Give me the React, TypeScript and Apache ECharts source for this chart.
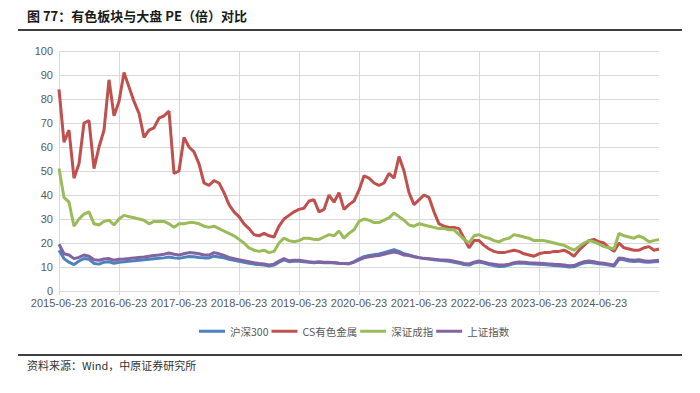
import React, { useEffect, useRef } from "react";
import * as echarts from "echarts";

const tickLabels = [
  "2015-06-23", "2016-06-23", "2017-06-23", "2018-06-23", "2019-06-23",
  "2020-06-23", "2021-06-23", "2022-06-23", "2023-06-23", "2024-06-23",
];

const seriesNames = ["沪深300", "CS有色金属", "深证成指", "上证指数"];

// monthly PE readings from 2015-06-23 (index 0) to 2025-06 (index 120)
const hs300 = [
  17, 13.5, 12, 11, 12.5, 13.5, 13.2, 11.5, 11.2, 12, 12.2, 11.5, 12, 12.2, 12.4, 12.6, 12.8, 13, 13.2, 13.4,
  13.6, 13.8, 14.2, 13.8, 13.6, 14, 14.4, 14.3, 14, 13.8, 13.8, 14.5, 14.2, 13.8, 13.2, 12.8, 12.4, 12, 11.6, 11.2,
  11, 10.8, 10.4, 10.8, 12, 13, 12.2, 12.4, 12.4, 12.2, 12, 11.8, 12, 11.8, 11.9, 11.8, 11.6, 11.5, 11.4, 12.2,
  13.4, 14.3, 14.8, 15.1, 15.4, 16, 16.6, 17.2, 16.5, 15.5, 15, 14.4, 13.9, 13.5, 13.3, 13, 12.8, 12.6, 12.4, 12,
  11.6, 11, 10.8, 11.6, 12.1, 11.6, 11, 10.6, 10.2, 10.3, 10.8, 11.4, 11.7, 11.6, 11.4, 11.2, 11.1, 11, 10.8, 10.6,
  10.5, 10.3, 10, 10.1, 11, 11.7, 12, 11.7, 11.3, 11.1, 10.8, 10.4, 13.2, 13, 12.5, 12.3, 12.5, 12.1, 12, 12.2,
  12.3,
];

const csMetals = [
  84, 62, 67, 47, 53, 70, 71, 51, 60, 67, 88, 73, 79, 91, 85, 79, 74, 64, 67, 68,
  72, 73, 75, 49, 50, 64, 60, 58, 53, 45, 44, 46, 45, 41, 36, 33, 31, 28, 26, 23.5,
  23, 24, 23, 22.5, 27, 30, 31.5, 33, 34, 34.5, 37.5, 38, 33, 34, 40, 37, 41, 34, 36, 37.5,
  42, 48, 47, 45, 44, 45, 49, 47, 56, 50, 41, 36, 38, 40, 39, 33, 28, 27, 26.5, 26.5,
  26, 22, 18, 21, 21, 19, 17.5, 16.5, 16, 16, 16.5, 17, 16.5, 15.5, 15, 14.5, 15.5, 16, 16, 16.5,
  16.5, 17, 16, 14.5, 17, 19, 21, 21.5, 20.5, 20, 18, 16.5, 20, 18, 17.5, 17, 17, 18, 18.5, 17,
  17.5,
];

const szComponent = [
  51, 39, 37, 27, 30, 32, 33, 28, 27.5, 29, 29.5, 27.5, 30, 31.5, 31, 30.5, 30, 29.5, 28, 29,
  29, 29, 28, 26.5, 28, 28, 28.5, 28.5, 28, 27, 26.5, 27, 26, 25, 24, 23, 21.5, 20, 18, 17,
  16.5, 17, 16, 16.5, 20, 22, 21, 20.5, 21, 22, 22, 21.5, 21.5, 22.5, 23.5, 23, 25, 22, 24, 25.5,
  29, 30, 29.5, 28.5, 28.5, 29.5, 30.5, 32.5, 31, 29.5, 27.5, 27, 28, 27.5, 27, 26.5, 26, 26, 25.5, 25.5,
  23.5, 21.5, 20, 23, 23.5, 22.5, 22, 21, 20.5, 21.5, 22, 23.5, 23, 22.5, 22, 21, 21, 21, 20.5, 20,
  19.5, 19, 18, 17, 18.5, 20, 21, 20.5, 19.5, 18.5, 18, 17.5, 24, 23, 22.5, 22, 23, 22, 20.5, 21,
  21.5,
];

const shComposite = [
  19.5, 15.5, 15, 13.5, 14, 15, 14.5, 13, 12.8, 13.3, 13.5, 12.8, 13.2, 13.3, 13.5, 13.8, 14, 14.2, 14.5, 14.8,
  15, 15.3, 15.8, 15.3, 15, 15.5, 16, 15.8, 15.5, 15, 15, 16, 15.5, 14.8, 14, 13.5, 13, 12.6, 12.2, 11.8,
  11.5, 11.3, 10.8, 11.2, 12.5, 13.5, 12.6, 12.8, 12.8, 12.5, 12.2, 12, 12.2, 12, 12, 11.8, 11.6, 11.5, 11.4, 12,
  13, 13.8, 14.3, 14.6, 14.8, 15.3, 15.8, 16.2, 15.8, 15, 14.8, 14.3, 13.9, 13.6, 13.4, 13.2, 13, 12.9, 12.8, 12.4,
  12, 11.5, 11.3, 12, 12.5, 12, 11.5, 11.2, 10.8, 10.8, 11.2, 11.8, 12.1, 12, 11.8, 11.7, 11.6, 11.5, 11.3, 11.1,
  11, 10.8, 10.5, 10.6, 11.5, 12.2, 12.5, 12.2, 11.8, 11.6, 11.2, 10.8, 13.8, 13.5, 13, 12.8, 13, 12.6, 12.4, 12.6,
  12.8,
];

const colors = ["#4F81BD", "#C0504D", "#9BBB59", "#8064A2"];

export default function App() {
  const ref = useRef<HTMLDivElement>(null);
  useEffect(() => {
    if (!ref.current) return;
    const chart = echarts.init(ref.current, undefined, { renderer: "svg" });
    const allData = [hs300, csMetals, szComponent, shComposite];
    const cjk = "'Noto Sans CJK SC', 'Liberation Sans', sans-serif";
    chart.setOption({
      animation: false,
      backgroundColor: "#ffffff",
      color: colors,
      textStyle: { fontFamily: cjk },
      grid: { left: 59, right: 41, top: 51, bottom: 102, containLabel: false },
      legend: {
        left: 194,
        top: 321,
        itemWidth: 26,
        itemHeight: 3,
        itemGap: 3,
        icon: "rect",
        textStyle: { fontSize: 10.5, color: "#595959", fontFamily: cjk },
        data: seriesNames,
      },
      xAxis: {
        type: "value",
        min: 0,
        max: 120,
        interval: 12,
        axisLine: { show: true, lineStyle: { color: "#d9d9d9", width: 1 } },
        axisTick: { show: true, length: 4, lineStyle: { color: "#d9d9d9" } },
        splitLine: { show: true, showMaxLine: false, lineStyle: { color: "#d9d9d9", width: 1 } },
        axisLabel: {
          fontSize: 11,
          color: "#595959",
          margin: 6,
          fontFamily: "'Liberation Sans', Arial, sans-serif",
          showMaxLabel: false,
          formatter: (v: number) => {
            const k = Math.round(v / 12);
            return k < tickLabels.length ? tickLabels[k] : "";
          },
        },
      },
      yAxis: {
        type: "value",
        min: 0,
        max: 100,
        interval: 10,
        axisLine: { show: false },
        axisTick: { show: false },
        splitLine: { show: true, lineStyle: { color: "#d9d9d9", width: 1 } },
        axisLabel: {
          fontSize: 11,
          color: "#595959",
          margin: 6,
          fontFamily: "'Liberation Sans', Arial, sans-serif",
        },
      },
      series: seriesNames.map((name, s) => ({
        name,
        type: "line",
        showSymbol: false,
        symbol: "none",
        lineStyle: { width: 3, color: colors[s] },
        data: allData[s].map((v, i) => [i, v]),
      })),
      graphic: [
        {
          type: "text",
          left: 27,
          top: 9,
          style: {
            text: "图 77：有色板块与大盘 PE（倍）对比",
            fontSize: 13,
            fontWeight: "bold",
            fill: "#1a1a1a",
            fontFamily: cjk,
          },
        },
        {
          type: "line",
          shape: { x1: 18, y1: 30, x2: 682, y2: 30 },
          style: { stroke: "#000000", lineWidth: 1.6 },
        },
        {
          type: "line",
          shape: { x1: 18, y1: 355, x2: 682, y2: 355 },
          style: { stroke: "#000000", lineWidth: 1.6 },
        },
        {
          type: "text",
          left: 27,
          top: 359,
          style: {
            text: "资料来源：Wind，中原证券研究所",
            fontSize: 11,
            fill: "#333333",
            fontFamily: cjk,
          },
        },
      ],
    });
    return () => chart.dispose();
  }, []);
  return (
    <div
      ref={ref}
      style={{ position: "fixed", left: 0, top: 0, width: 700, height: 393 }}
    />
  );
}
